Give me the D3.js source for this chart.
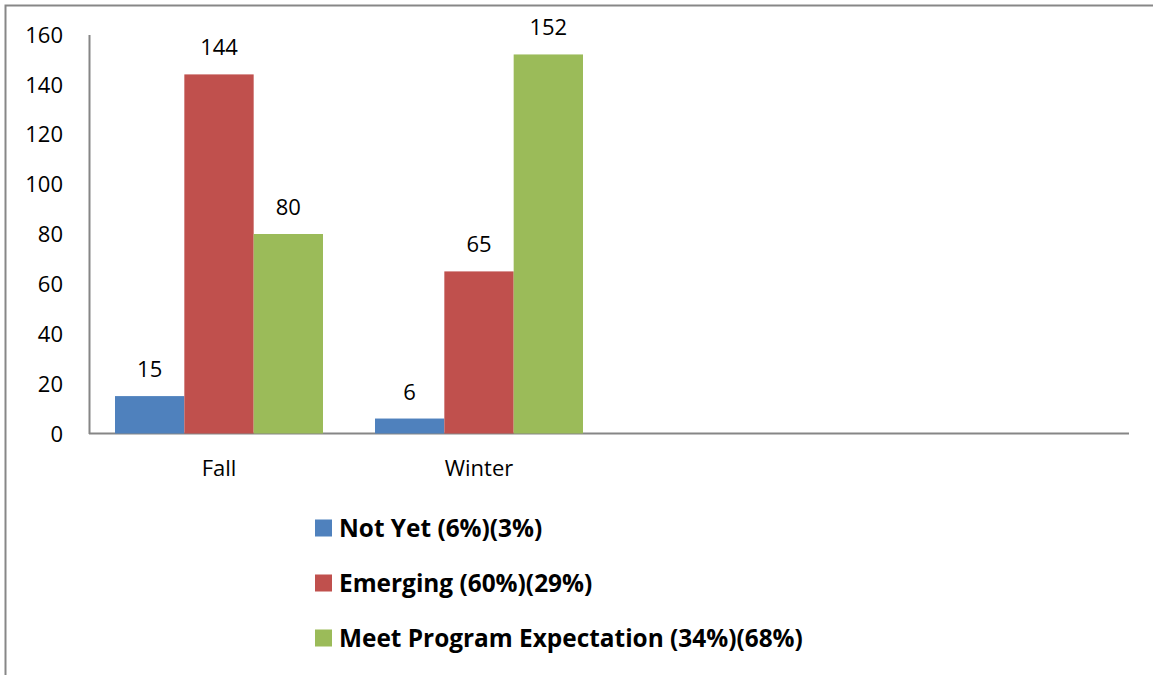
<!DOCTYPE html>
<html>
<head>
<meta charset="utf-8">
<script src="https://cdn.jsdelivr.net/npm/d3@7"></script>
<style>
  body { margin: 0; background: #fff; }
  text { font-family: "Open Sans", "Noto Sans", sans-serif; fill: #000; }
</style>
</head>
<body>
<div id="chart"></div>
<script>
// chart data
const categories = ["Fall", "Winter", "", ""];
const seriesNames = ["Not Yet (6%)(3%)", "Emerging (60%)(29%)", "Meet Program Expectation (34%)(68%)"];
const notYet = [15, 6];
const emerging = [144, 65];
const meetExpectation = [80, 152];
const yTicks = [0, 20, 40, 60, 80, 100, 120, 140, 160];

const colors = ["#4F81BD", "#C0504D", "#9BBB59"];
const series = [notYet, emerging, meetExpectation];

const width = 1153, height = 675;
const margin = {top: 34.5, left: 89, right: 24, bottom: 241.5};

const svg = d3.select("#chart").append("svg")
  .attr("width", width)
  .attr("height", height);

// outer frame (cut off at right and bottom)
svg.append("rect")
  .attr("x", 5.5).attr("y", 5.5)
  .attr("width", width + 10).attr("height", height + 10)
  .attr("fill", "none")
  .attr("stroke", "#878787")
  .attr("stroke-width", 2);

const x0 = d3.scaleBand()
  .domain(d3.range(categories.length))
  .range([margin.left, width - margin.right])
  .paddingInner(0.2)
  .paddingOuter(0.1);

const x1 = d3.scaleBand()
  .domain(d3.range(series.length))
  .range([0, x0.bandwidth()]);

const y = d3.scaleLinear()
  .domain([0, 160])
  .range([height - margin.bottom, margin.top]);

// y axis labels
const yAxis = d3.axisLeft(y).tickValues(yTicks).tickSize(0).tickPadding(26);
const gy = svg.append("g")
  .attr("transform", "translate(" + margin.left + ",0)")
  .call(yAxis);
gy.select(".domain").attr("stroke", "#868686").attr("stroke-width", 2);
gy.selectAll("text")
  .style("font-size", "22px")
  .attr("dy", "0.35em");

// x axis
const xAxis = d3.axisBottom(x0).tickFormat(i => categories[i]).tickSize(0).tickPadding(27);
const gx = svg.append("g")
  .attr("transform", "translate(0," + y(0) + ")")
  .call(xAxis);
gx.select(".domain")
  .attr("d", "M" + margin.left + ",0H" + (width - margin.right))
  .attr("stroke", "#868686").attr("stroke-width", 2);
gx.selectAll("text").style("font-size", "22px");

// bars
series.forEach(function(vals, s) {
  const g = svg.append("g");
  g.selectAll("rect")
    .data(vals)
    .enter().append("rect")
    .attr("x", (d, i) => x0(i) + x1(s))
    .attr("y", d => y(d))
    .attr("width", x1.bandwidth())
    .attr("height", d => y(0) - y(d))
    .attr("fill", colors[s]);

  g.selectAll("text")
    .data(vals)
    .enter().append("text")
    .attr("x", (d, i) => x0(i) + x1(s) + x1.bandwidth() / 2)
    .attr("y", d => y(d) - 19)
    .attr("text-anchor", "middle")
    .style("font-size", "22px")
    .text(d => d);
});

// legend
const legend = svg.append("g").attr("transform", "translate(315,528)");
seriesNames.forEach(function(name, i) {
  const row = legend.append("g").attr("transform", "translate(0," + (i * 55) + ")");
  row.append("rect")
    .attr("x", 0).attr("y", -8.5)
    .attr("width", 17).attr("height", 17)
    .attr("fill", colors[i]);
  row.append("text")
    .attr("x", 24).attr("y", 0)
    .attr("dy", "0.35em")
    .style("font-size", "24.4px")
    .style("font-weight", "bold")
    .text(name);
});
</script>
</body>
</html>
